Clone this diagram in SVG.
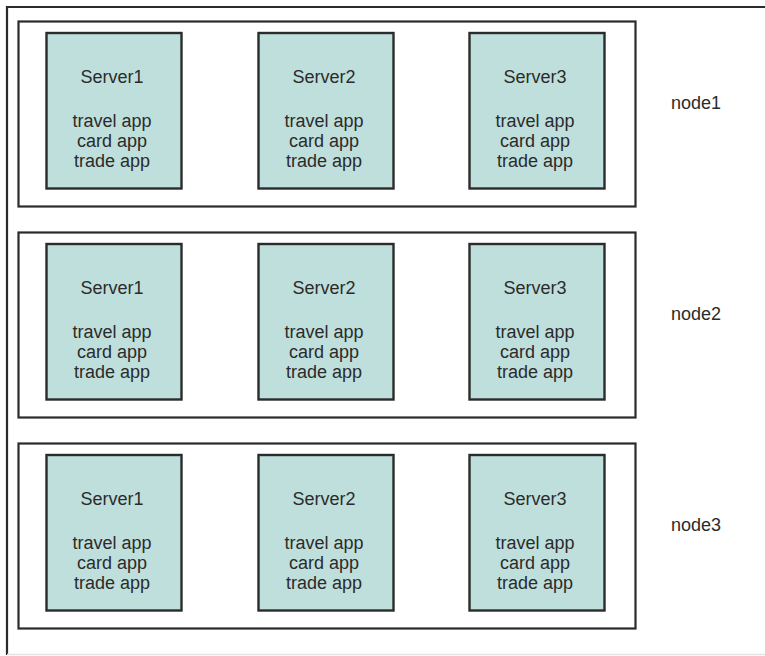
<svg xmlns="http://www.w3.org/2000/svg" width="765" height="656" viewBox="0 0 765 656">
<style>
.frame{fill:none;stroke:#2b2b2b;stroke-width:2.2}
.row{fill:#fff;stroke:#2b2b2b;stroke-width:2.2}
.srv{fill:#bfdfdc;stroke:#2b2b2b;stroke-width:2.4}
text{font-family:"Liberation Sans",Arial,sans-serif;font-size:18px;fill:#2b2b2b}
.c{text-anchor:middle}
</style>
<rect x="0" y="0" width="765" height="656" fill="#fff"/>
<g id="outer">
<path class="frame" d="M7,655 V7 H766"/>
<line x1="7" y1="654.5" x2="765" y2="654.5" stroke="#e4e4e4" stroke-width="1.5"/>
</g>
<g id="node1">
<rect class="row" x="18.5" y="21.5" width="617" height="185"/>
<text x="671" y="109">node1</text>
</g>
<g id="node1-server1"><rect class="srv" x="46.5" y="33" width="135" height="155.5"/>
<text class="c" x="112" y="83.3">Server1</text><text class="c" x="112" y="126.7">travel app</text><text class="c" x="112" y="146.7">card app</text><text class="c" x="112" y="166.5">trade app</text></g>
<g id="node1-server2"><rect class="srv" x="258.5" y="33" width="135" height="155.5"/>
<text class="c" x="324" y="83.3">Server2</text><text class="c" x="324" y="126.7">travel app</text><text class="c" x="324" y="146.7">card app</text><text class="c" x="324" y="166.5">trade app</text></g>
<g id="node1-server3"><rect class="srv" x="469.5" y="33" width="135" height="155.5"/>
<text class="c" x="535" y="83.3">Server3</text><text class="c" x="535" y="126.7">travel app</text><text class="c" x="535" y="146.7">card app</text><text class="c" x="535" y="166.5">trade app</text></g>

<g id="node2">
<rect class="row" x="18.5" y="232.5" width="617" height="185"/>
<text x="671" y="320">node2</text>
</g>
<g id="node2-server1"><rect class="srv" x="46.5" y="244" width="135" height="155.5"/>
<text class="c" x="112" y="294.3">Server1</text><text class="c" x="112" y="337.7">travel app</text><text class="c" x="112" y="357.7">card app</text><text class="c" x="112" y="377.5">trade app</text></g>
<g id="node2-server2"><rect class="srv" x="258.5" y="244" width="135" height="155.5"/>
<text class="c" x="324" y="294.3">Server2</text><text class="c" x="324" y="337.7">travel app</text><text class="c" x="324" y="357.7">card app</text><text class="c" x="324" y="377.5">trade app</text></g>
<g id="node2-server3"><rect class="srv" x="469.5" y="244" width="135" height="155.5"/>
<text class="c" x="535" y="294.3">Server3</text><text class="c" x="535" y="337.7">travel app</text><text class="c" x="535" y="357.7">card app</text><text class="c" x="535" y="377.5">trade app</text></g>

<g id="node3">
<rect class="row" x="18.5" y="443.5" width="617" height="185"/>
<text x="671" y="531">node3</text>
</g>
<g id="node3-server1"><rect class="srv" x="46.5" y="455" width="135" height="155.5"/>
<text class="c" x="112" y="505.3">Server1</text><text class="c" x="112" y="548.7">travel app</text><text class="c" x="112" y="568.7">card app</text><text class="c" x="112" y="588.5">trade app</text></g>
<g id="node3-server2"><rect class="srv" x="258.5" y="455" width="135" height="155.5"/>
<text class="c" x="324" y="505.3">Server2</text><text class="c" x="324" y="548.7">travel app</text><text class="c" x="324" y="568.7">card app</text><text class="c" x="324" y="588.5">trade app</text></g>
<g id="node3-server3"><rect class="srv" x="469.5" y="455" width="135" height="155.5"/>
<text class="c" x="535" y="505.3">Server3</text><text class="c" x="535" y="548.7">travel app</text><text class="c" x="535" y="568.7">card app</text><text class="c" x="535" y="588.5">trade app</text></g>
<g id="connectors"></g>
</svg>
